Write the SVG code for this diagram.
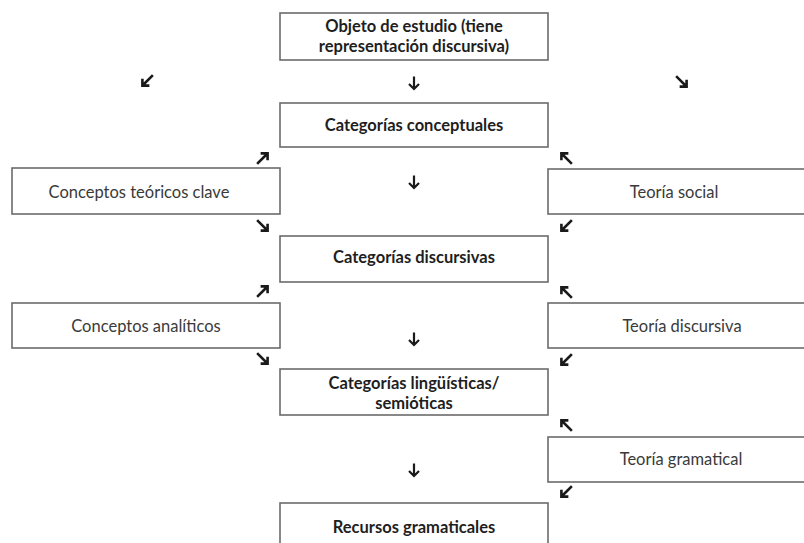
<svg xmlns="http://www.w3.org/2000/svg" width="804" height="543" viewBox="0 0 804 543">
<style>
.box{fill:#fff;stroke:#6b6b6b;stroke-width:1.6}
.t{font-family:Lato,"Liberation Sans",sans-serif;font-size:16.5px;fill:#3a3a3a;text-anchor:middle}
.b{font-weight:bold;fill:#1e1e1e}
.arr{fill:none;stroke:#1a1a1a;stroke-width:2.6;stroke-linecap:square;stroke-linejoin:miter}
.ard{fill:none;stroke:#1a1a1a;stroke-width:2.2;stroke-linecap:butt;stroke-linejoin:miter}
</style>
<defs>
<path id="ad" class="ard" d="M0,-6.5 V5.5 M-5,1 L0,6 L5,1"/>
<path id="ag" class="arr" d="M0,-7 V6 M-4,2.5 L0,6.5 L4,2.5"/>
</defs>
<rect width="804" height="543" fill="#fff"/>
<g id="objeto"><rect class="box" x="280" y="13" width="268" height="47"/><text class="t b" x="414" y="32">Objeto de estudio (tiene</text><text class="t b" x="414" y="52">representación discursiva)</text></g>
<g id="cat-conceptuales"><rect class="box" x="280" y="103" width="268" height="44"/><text class="t b" x="414" y="131">Categorías conceptuales</text></g>
<g id="conceptos-teoricos"><rect class="box" x="12" y="168" width="268" height="46"/><text class="t" x="139" y="198">Conceptos teóricos clave</text></g>
<g id="teoria-social"><rect class="box" x="548" y="169" width="260" height="45"/><text class="t" x="674" y="198">Teoría social</text></g>
<g id="cat-discursivas"><rect class="box" x="280" y="236" width="268" height="46"/><text class="t b" x="414" y="263">Categorías discursivas</text></g>
<g id="conceptos-analiticos"><rect class="box" x="12" y="303" width="268" height="45"/><text class="t" x="146" y="332">Conceptos analíticos</text></g>
<g id="teoria-discursiva"><rect class="box" x="548" y="303" width="260" height="45"/><text class="t" x="682" y="332">Teoría discursiva</text></g>
<g id="cat-linguisticas"><rect class="box" x="280" y="369" width="268" height="46"/><text class="t b" x="414" y="389">Categorías lingüísticas/</text><text class="t b" x="414" y="409">semióticas</text></g>
<g id="teoria-gramatical"><rect class="box" x="548" y="437" width="260" height="45"/><text class="t" x="681" y="465">Teoría gramatical</text></g>
<g id="recursos"><rect class="box" x="280" y="503" width="268" height="50"/><text class="t b" x="414" y="533">Recursos gramaticales</text></g>
<g id="connectors">
<use href="#ag" transform="translate(147,81) rotate(45)"/>
<use href="#ad" transform="translate(414,83)"/>
<use href="#ag" transform="translate(682,82) rotate(-45)"/>
<use href="#ag" transform="translate(263,158) rotate(-135)"/>
<use href="#ag" transform="translate(566,158) rotate(135)"/>
<use href="#ad" transform="translate(414,182)"/>
<use href="#ag" transform="translate(263,226) rotate(-45)"/>
<use href="#ag" transform="translate(566,226) rotate(45)"/>
<use href="#ag" transform="translate(263,291) rotate(-135)"/>
<use href="#ag" transform="translate(566,292) rotate(135)"/>
<use href="#ad" transform="translate(414,339)"/>
<use href="#ag" transform="translate(263,359) rotate(-45)"/>
<use href="#ag" transform="translate(566,360) rotate(45)"/>
<use href="#ag" transform="translate(566,425) rotate(135)"/>
<use href="#ad" transform="translate(414,470)"/>
<use href="#ag" transform="translate(566,492) rotate(45)"/>
</g>
</svg>
